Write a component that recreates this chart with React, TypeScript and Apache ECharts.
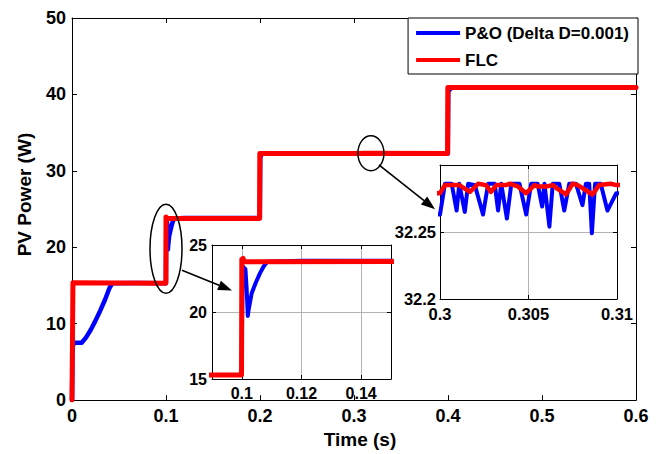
import React, { useEffect, useRef } from "react";
import * as echarts from "echarts";

// ---- Data ----
const seriesNames = ["P&O (Delta D=0.001)", "FLC"];

const pnoTime = [
  0, 0.0005, 0.001, 0.003, 0.0103, 0.015, 0.02, 0.025, 0.03, 0.035, 0.04, 0.043, 0.07, 0.0999,
  0.1003, 0.1012, 0.1016, 0.102, 0.1023, 0.1033, 0.1047, 0.1061, 0.1073, 0.1085, 0.12, 0.15, 0.1999,
  0.2003, 0.202, 0.205,
  0.3, 0.30028, 0.30066, 0.30094, 0.30109, 0.3014, 0.30159, 0.30197, 0.30243, 0.30272, 0.30309,
  0.30328, 0.30346, 0.30378, 0.30403, 0.30449, 0.30487, 0.30515, 0.30552, 0.30577, 0.3059, 0.30618,
  0.30637, 0.30674, 0.30702, 0.3073, 0.30768, 0.30805, 0.30824, 0.30843, 0.30858, 0.30876, 0.30908,
  0.30946, 0.30996,
  0.3999, 0.4003, 0.4015, 0.404, 0.6,
];
const pnoPower = [
  0, 6.2, 7.2, 7.5, 7.5, 8.2, 9.2, 10.4, 11.7, 13.1, 14.7, 15.3, 15.32, 15.3,
  23.4, 23.2, 21.8, 19.7, 20.2, 21.4, 22.2, 22.9, 23.4, 23.75, 23.82, 23.82, 23.82,
  31.8, 32.2, 32.28,
  32.263, 32.286, 32.286, 32.266, 32.286, 32.265, 32.286, 32.285, 32.263, 32.286, 32.286,
  32.266, 32.286, 32.26, 32.286, 32.286, 32.263, 32.286, 32.286, 32.269, 32.286, 32.254,
  32.286, 32.286, 32.266, 32.286, 32.286, 32.27, 32.286, 32.286, 32.249, 32.286, 32.286,
  32.266, 32.279,
  32.28, 40.3, 40.6, 40.9, 40.9,
];

const flcTime = [
  0, 0.001, 0.0999, 0.1, 0.1004, 0.1008, 0.15, 0.1995, 0.1998,
  0.3, 0.30028, 0.30109, 0.30169, 0.30215, 0.3026, 0.30288, 0.30318, 0.30374, 0.30393, 0.3044,
  0.30487, 0.30534, 0.30552, 0.306, 0.30637, 0.30656, 0.30712, 0.30749, 0.30778, 0.30862, 0.30899,
  0.30965, 0.30996,
  0.3995, 0.3998, 0.6,
];
const flcPower = [
  0, 15.35, 15.3, 23.95, 24.0, 23.75, 23.76, 23.76, 32.285,
  32.279, 32.285, 32.285, 32.28, 32.286, 32.285, 32.28, 32.285, 32.285, 32.286, 32.284,
  32.279, 32.285, 32.284, 32.284, 32.285, 32.283, 32.278, 32.286, 32.285, 32.278, 32.285,
  32.286, 32.285,
  32.285, 40.9, 40.9,
];

const zoom1XTicks = [0.1, 0.12, 0.14];

const FONT = "'Liberation Sans', Arial, Helvetica, sans-serif";

function zip(t: number[], v: number[]) {
  return t.map((x, i) => [x, v[i]]);
}

function axisBase(opts: any) {
  const { gridIndex, min, max, interval, position, tickLen, showLabel, fontSize, margin, labelFormatter, customValues, split } = opts;
  const ax: any = {
    type: "value",
    gridIndex,
    min,
    max,
    position,
    axisLine: { show: true, onZero: false, lineStyle: { color: "#000", width: 1 } },
    axisTick: { show: true, inside: true, length: tickLen, lineStyle: { color: "#000", width: 1 } },
    splitLine: split
      ? { show: true, lineStyle: { color: "#b4b4b4", width: 1 } }
      : { show: false },
    axisLabel: {
      show: showLabel,
      color: "#000",
      fontFamily: FONT,
      fontWeight: "bold",
      fontSize,
      margin,
    },
  };
  if (interval !== undefined) ax.interval = interval;
  if (labelFormatter) ax.axisLabel.formatter = labelFormatter;
  if (customValues) {
    ax.axisTick.customValues = customValues;
    ax.axisLabel.customValues = customValues;
  }
  return ax;
}

export default function App() {
  const ref = useRef<HTMLDivElement>(null);

  useEffect(() => {
    if (!ref.current) return;
    const chart = echarts.init(ref.current, null, { renderer: "svg" });
    const pnoData = zip(pnoTime, pnoPower);
    const flcData = zip(flcTime, flcPower);

    const grids = [
      { left: 72, top: 18, width: 564, height: 387 },
      { left: 212, top: 245, width: 179, height: 134, show: true, backgroundColor: "#fff", borderWidth: 0 },
      { left: 440, top: 165, width: 177, height: 134, show: true, backgroundColor: "#fff", borderWidth: 0 },
    ];

    const mainX = axisBase({ gridIndex: 0, min: 0, max: 0.6, interval: 0.1, position: "bottom", tickLen: 5, showLabel: true, fontSize: 18, margin: 7 });
    mainX.name = "Time (s)";
    mainX.nameLocation = "middle";
    mainX.nameGap = 26;
    mainX.nameTextStyle = { fontFamily: FONT, fontWeight: "bold", fontSize: 19, color: "#000", padding: [0, 0, 0, 12] };
    const mainXTop = axisBase({ gridIndex: 0, min: 0, max: 0.6, interval: 0.1, position: "top", tickLen: 5, showLabel: false, fontSize: 18, margin: 7 });

    const mainY = axisBase({ gridIndex: 0, min: 0, max: 50, interval: 10, position: "left", tickLen: 5, showLabel: true, fontSize: 18, margin: 6 });
    mainY.name = "PV Power (W)";
    mainY.nameLocation = "middle";
    mainY.nameRotate = 90;
    mainY.nameGap = 38;
    mainY.nameTextStyle = { fontFamily: FONT, fontWeight: "bold", fontSize: 19, color: "#000", padding: [0, 0, 0, 29] };
    const mainYRight = axisBase({ gridIndex: 0, min: 0, max: 50, interval: 10, position: "right", tickLen: 5, showLabel: false, fontSize: 18, margin: 6 });

    const z1X = axisBase({ gridIndex: 1, min: 0.09, max: 0.15, position: "bottom", tickLen: 4, showLabel: true, fontSize: 16, margin: 6, customValues: zoom1XTicks, split: true });
    const z1XTop = axisBase({ gridIndex: 1, min: 0.09, max: 0.15, position: "top", tickLen: 4, showLabel: false, fontSize: 16, margin: 6, customValues: zoom1XTicks });
    const z1Y = axisBase({ gridIndex: 1, min: 15, max: 25, interval: 5, position: "left", tickLen: 4, showLabel: true, fontSize: 16, margin: 5, split: true });
    const z1YRight = axisBase({ gridIndex: 1, min: 15, max: 25, interval: 5, position: "right", tickLen: 4, showLabel: false, fontSize: 16, margin: 5 });

    const z2X = axisBase({ gridIndex: 2, min: 0.3, max: 0.31, interval: 0.005, position: "bottom", tickLen: 4, showLabel: true, fontSize: 16.5, margin: 6, split: true });
    const z2XTop = axisBase({ gridIndex: 2, min: 0.3, max: 0.31, interval: 0.005, position: "top", tickLen: 4, showLabel: false, fontSize: 16.5, margin: 6 });
    const z2Y = axisBase({
      gridIndex: 2, min: 32.2, max: 32.3, interval: 0.05, position: "left", tickLen: 4, showLabel: true, fontSize: 16.5, margin: 4, split: true,
      labelFormatter: (v: number) => (v > 32.29 ? "" : String(Math.round(v * 1000) / 1000)),
    });
    const z2YRight = axisBase({ gridIndex: 2, min: 32.2, max: 32.3, interval: 0.05, position: "right", tickLen: 4, showLabel: false, fontSize: 16.5, margin: 4 });

    const lineSeries = (name: string, data: number[][], xi: number, yi: number, color: string, width: number, z: number) => ({
      type: "line",
      name,
      data,
      xAxisIndex: xi,
      yAxisIndex: yi,
      symbol: "none",
      showSymbol: false,
      clip: true,
      z,
      lineStyle: { color, width, join: "round", cap: "round" },
      itemStyle: { color },
      emphasis: { disabled: true },
    });

    chart.setOption({
      animation: false,
      backgroundColor: "#fff",
      grid: grids,
      xAxis: [mainX, mainXTop, z1X, z1XTop, z2X, z2XTop],
      yAxis: [mainY, mainYRight, z1Y, z1YRight, z2Y, z2YRight],
      legend: {
        show: true,
        orient: "vertical",
        right: 22,
        top: 18,
        padding: [5, 9, 4, 8],
        itemGap: 7,
        itemWidth: 44,
        itemHeight: 4,
        icon: "rect",
        backgroundColor: "#fff",
        borderColor: "#000",
        borderWidth: 1,
        borderRadius: 0,
        selectedMode: false,
        data: seriesNames,
        textStyle: { fontFamily: FONT, fontWeight: "bold", fontSize: 17, color: "#000", lineHeight: 20 },
        z: 20,
      },
      series: [
        lineSeries(seriesNames[0], pnoData, 0, 0, "#0000ff", 4.5, 3),
        lineSeries(seriesNames[1], flcData, 0, 0, "#ff0000", 5, 4),
        lineSeries(seriesNames[0], pnoData, 2, 2, "#0000ff", 4, 5),
        lineSeries(seriesNames[1], flcData, 2, 2, "#ff0000", 5, 6),
        lineSeries(seriesNames[0], pnoData, 4, 4, "#0000ff", 4, 5),
        lineSeries(seriesNames[1], flcData, 4, 4, "#ff0000", 4.5, 6),
      ],
    });

    // ---- annotations: ellipses around zoomed regions and arrows to insets ----
    const e1 = chart.convertToPixel({ xAxisIndex: 0, yAxisIndex: 0 }, [0.1, 19.8]) as number[];
    const e2 = chart.convertToPixel({ xAxisIndex: 0, yAxisIndex: 0 }, [0.318, 32.3]) as number[];
    const t1 = chart.convertToPixel({ xAxisIndex: 2, yAxisIndex: 2 }, [0.0967, 21.6]) as number[];
    const t2 = chart.convertToPixel({ xAxisIndex: 4, yAxisIndex: 4 }, [0.29972, 32.267]) as number[];

    const arrow = (sx: number, sy: number, tx: number, ty: number) => {
      const dx = tx - sx, dy = ty - sy;
      const L = Math.hypot(dx, dy);
      const ux = dx / L, uy = dy / L;
      const bx = tx - ux * 14, by = ty - uy * 14;
      const nx = -uy, ny = ux;
      return [
        { type: "line", shape: { x1: sx, y1: sy, x2: bx, y2: by }, style: { stroke: "#000", lineWidth: 1.6 }, z: 100, silent: true },
        {
          type: "polygon",
          shape: { points: [[tx, ty], [bx + nx * 5, by + ny * 5], [bx - nx * 5, by - ny * 5]] },
          style: { fill: "#000" },
          z: 100,
          silent: true,
        },
      ];
    };

    chart.setOption({
      graphic: [
        { type: "ellipse", shape: { cx: e1[0], cy: e1[1], rx: 16, ry: 44.5 }, style: { fill: "none", stroke: "#000", lineWidth: 1.5 }, z: 100, silent: true },
        { type: "ellipse", shape: { cx: e2[0], cy: e2[1], rx: 13, ry: 17.5 }, style: { fill: "none", stroke: "#000", lineWidth: 1.5 }, z: 100, silent: true },
        ...arrow(e1[0] + 16, e1[1] + 21.5, t1[0], t1[1]),
        ...arrow(e2[0] + 8, e2[1] + 11.5, t2[0], t2[1]),
      ],
    });

    return () => chart.dispose();
  }, []);

  return <div ref={ref} style={{ position: "fixed", left: 0, top: 0, width: 660, height: 454 }} />;
}
